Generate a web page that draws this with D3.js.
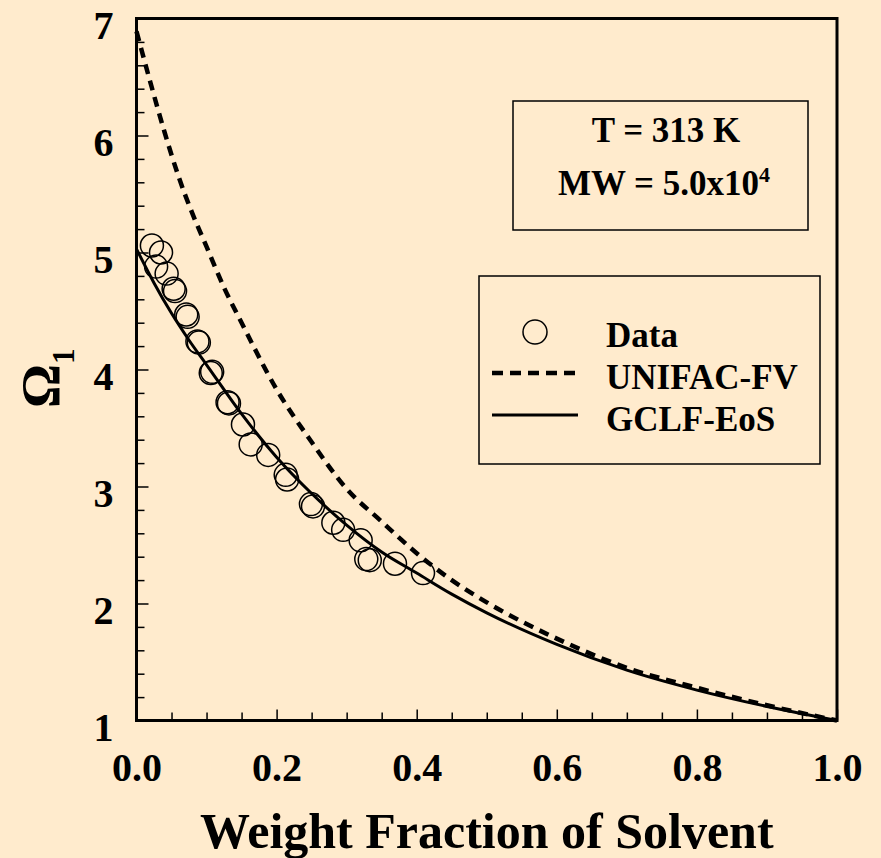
<!DOCTYPE html>
<html>
<head>
<meta charset="utf-8">
<script src="https://cdn.jsdelivr.net/npm/d3@7"></script>
<style>
  body { margin: 0; background: #FFEBCD; }
  svg text { font-family: "Liberation Serif", "Times New Roman", serif; font-weight: bold; fill: #000; }
</style>
</head>
<body>
<div id="chart"></div>
<script>
// Data
var dataX = [0.022, 0.035, 0.028, 0.043, 0.053, 0.055, 0.071, 0.073, 0.087, 0.089, 0.106, 0.108,
             0.130, 0.132, 0.152, 0.163, 0.188, 0.213, 0.215, 0.249, 0.252, 0.281, 0.295, 0.320,
             0.328, 0.333, 0.369, 0.409];
var dataY = [5.06, 5.00, 4.88, 4.82, 4.69, 4.67, 4.47, 4.45, 4.24, 4.23, 3.97, 3.98,
             3.72, 3.71, 3.53, 3.36, 3.27, 3.10, 3.06, 2.85, 2.83, 2.69, 2.63, 2.54,
             2.38, 2.37, 2.34, 2.26];

// UNIFAC-FV (dashed)
var unifacX = [0, 0.02, 0.04, 0.06, 0.08, 0.1, 0.125, 0.15, 0.2, 0.25, 0.3, 0.35, 0.4, 0.45, 0.5, 0.6, 0.7, 0.8, 0.9, 1.0];
var unifacY = [6.89, 6.45, 6.03, 5.65, 5.33, 5.05, 4.70, 4.40, 3.83, 3.38, 2.98, 2.70, 2.43, 2.20, 2.01, 1.70, 1.45, 1.28, 1.13, 1.00];

// GCLF-EoS (solid)
var gclfX = [0, 0.025, 0.05, 0.075, 0.1, 0.15, 0.2, 0.25, 0.3, 0.35, 0.4, 0.45, 0.5, 0.6, 0.7, 0.8, 0.9, 1.0];
var gclfY = [5.03, 4.74, 4.48, 4.25, 4.04, 3.62, 3.25, 2.94, 2.67, 2.44, 2.26, 2.08, 1.92, 1.65, 1.43, 1.26, 1.12, 1.00];

var xMajor = [0, 0.2, 0.4, 0.6, 0.8, 1.0];
var xMinor = [0.05, 0.1, 0.15, 0.25, 0.3, 0.35, 0.45, 0.5, 0.55, 0.65, 0.7, 0.75, 0.85, 0.9, 0.95];
var yMajor = [1, 2, 3, 4, 5, 6, 7];
var yMinor = d3.range(1.2, 7, 0.2).filter(v => Math.abs(v - Math.round(v)) > 0.01);

var legendItems = ["Data", "UNIFAC-FV", "GCLF-EoS"];

var W = 881, H = 858;
var svg = d3.select("#chart").append("svg")
  .attr("width", W).attr("height", H);

svg.append("rect").attr("width", W).attr("height", H).attr("fill", "#FFEBCD");

var x = d3.scaleLinear().domain([0, 1]).range([136.5, 837]);
var y = d3.scaleLinear().domain([1, 7]).range([720.5, 18.5]);

// minor ticks
svg.append("g")
  .attr("transform", `translate(${x(0)},0)`)
  .call(d3.axisLeft(y).tickValues(yMinor).tickSize(-8).tickFormat(""))
  .call(g => g.select(".domain").remove())
  .call(g => g.selectAll("line").attr("stroke-width", 1.5));

svg.append("g")
  .attr("transform", `translate(0,${y(1)})`)
  .call(d3.axisBottom(x).tickValues(xMinor).tickSize(-8).tickFormat(""))
  .call(g => g.select(".domain").remove())
  .call(g => g.selectAll("line").attr("stroke-width", 1.5));

// major ticks + labels
svg.append("g")
  .attr("transform", `translate(${x(0)},0)`)
  .call(d3.axisLeft(y).tickValues(yMajor).tickSize(-12).tickPadding(23).tickFormat(d3.format("d")))
  .call(g => g.select(".domain").remove())
  .call(g => g.selectAll("line").attr("stroke-width", 1.5))
  .call(g => g.selectAll("text").attr("font-size", 40).attr("font-family", null).attr("dy", "0.5em"));

svg.append("g")
  .attr("transform", `translate(0,${y(1)})`)
  .call(d3.axisBottom(x).tickValues(xMajor).tickSize(-11).tickFormat(d3.format(".1f")))
  .call(g => g.select(".domain").remove())
  .call(g => g.selectAll("line").attr("stroke-width", 1.5))
  .call(g => g.selectAll("text").attr("font-size", 40).attr("font-family", null).attr("y", 60).attr("dy", 0));

// frame
svg.append("rect")
  .attr("x", x(0)).attr("y", y(7))
  .attr("width", x(1) - x(0)).attr("height", y(1) - y(7))
  .attr("fill", "none").attr("stroke", "#000").attr("stroke-width", 3);

// curves
var line = d3.line().x(d => x(d[0])).y(d => y(d[1])).curve(d3.curveMonotoneX);

svg.append("path")
  .datum(unifacX.map((v, i) => [v, unifacY[i]]))
  .attr("d", line)
  .attr("fill", "none").attr("stroke", "#000")
  .attr("stroke-width", 4.5).attr("stroke-dasharray", "10,7");

svg.append("path")
  .datum(gclfX.map((v, i) => [v, gclfY[i]]))
  .attr("d", line)
  .attr("fill", "none").attr("stroke", "#000").attr("stroke-width", 3);

// data circles
svg.selectAll(".dot")
  .data(dataX.map((v, i) => [v, dataY[i]]))
  .enter().append("circle")
  .attr("class", "dot")
  .attr("cx", d => x(d[0])).attr("cy", d => y(d[1]))
  .attr("r", 11.5)
  .attr("fill", "none").attr("stroke", "#000").attr("stroke-width", 1.5);

// axis titles
svg.append("text")
  .attr("x", (x(0) + x(1)) / 2).attr("y", 848)
  .attr("text-anchor", "middle").attr("font-size", 50)
  .text("Weight Fraction of Solvent");

var yt = svg.append("text")
  .attr("transform", "translate(59,408) rotate(-90)")
  .attr("font-size", 55);
yt.append("tspan").text("Ω");
yt.append("tspan").attr("font-size", 31).attr("dy", 15).text("1");

// condition box
svg.append("rect")
  .attr("x", 513).attr("y", 101).attr("width", 295).attr("height", 129)
  .attr("fill", "none").attr("stroke", "#000").attr("stroke-width", 1.5);
svg.append("text").attr("x", 666).attr("y", 142)
  .attr("text-anchor", "middle").attr("font-size", 35).text("T = 313 K");
var mw = svg.append("text").attr("x", 664).attr("y", 195)
  .attr("text-anchor", "middle").attr("font-size", 35);
mw.append("tspan").text("MW = 5.0x10");
mw.append("tspan").attr("font-size", 22).attr("dy", -13).text("4");

// legend
svg.append("rect")
  .attr("x", 479).attr("y", 276).attr("width", 341).attr("height", 188)
  .attr("fill", "none").attr("stroke", "#000").attr("stroke-width", 1.5);

var lg = svg.selectAll(".legend")
  .data(legendItems)
  .enter().append("g")
  .attr("class", "legend")
  .attr("transform", (d, i) => `translate(0,${332 + i * 42})`);

lg.append("text")
  .attr("x", 606).attr("y", 15)
  .attr("font-size", 35)
  .text(d => d);

lg.filter((d, i) => i === 0).append("circle")
  .attr("cx", 535).attr("cy", 0).attr("r", 12)
  .attr("fill", "none").attr("stroke", "#000").attr("stroke-width", 1.5);
lg.filter((d, i) => i === 1).append("line")
  .attr("x1", 492).attr("x2", 578).attr("y1", -1).attr("y2", -1)
  .attr("stroke", "#000").attr("stroke-width", 4.5).attr("stroke-dasharray", "11,7");
lg.filter((d, i) => i === 2).append("line")
  .attr("x1", 492).attr("x2", 578).attr("y1", -1).attr("y2", -1)
  .attr("stroke", "#000").attr("stroke-width", 3);
</script>
</body>
</html>
